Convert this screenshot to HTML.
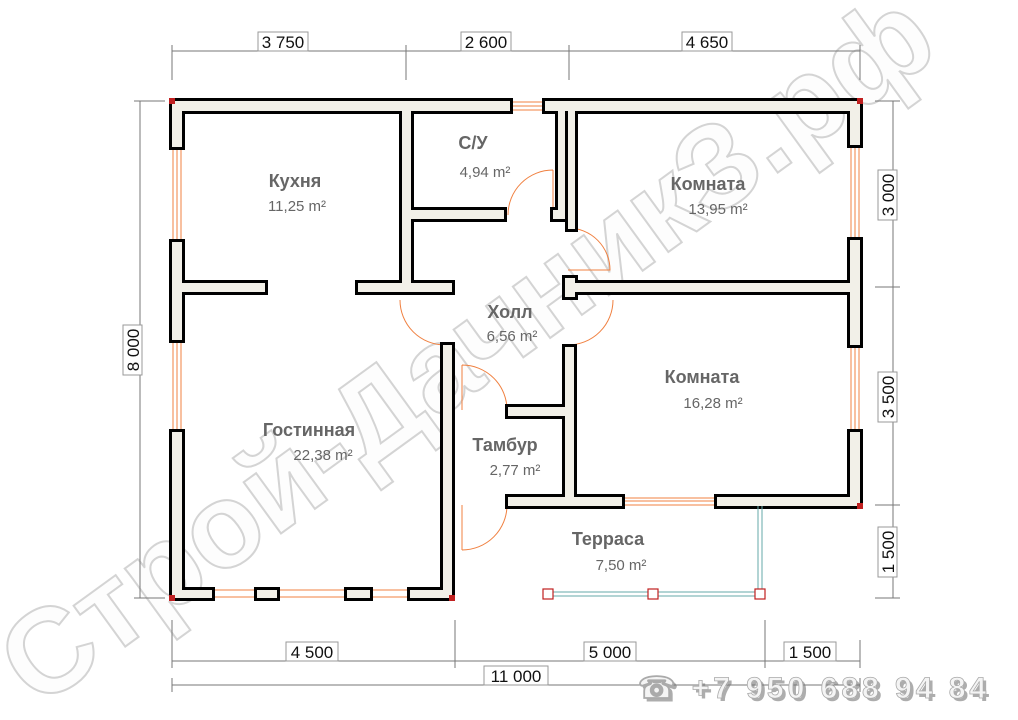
<!DOCTYPE html>
<html><head><meta charset="utf-8"><style>
html,body{margin:0;padding:0;background:#fff;}
svg{display:block;font-family:"Liberation Sans","DejaVu Sans",sans-serif;}
.nm{font-size:18px;font-weight:bold;fill:#666;}
.ar{font-size:15px;fill:#666;}
.dim{font-size:17px;fill:#111;}
</style></head><body>
<svg width="1018" height="720" viewBox="0 0 1018 720" xmlns="http://www.w3.org/2000/svg">
<!-- watermark -->
<text x="0" y="0" transform="translate(38,710) rotate(-36)" font-size="120" font-weight="bold" fill="#fdfdfd" stroke="#d4d4d4" stroke-width="2">Строй-ДачникЗ.рф</text>

<!-- dimension lines -->
<g stroke="#777" stroke-width="1" fill="none">
<line x1="172" y1="51" x2="860" y2="51"/>
<line x1="172" y1="45" x2="172" y2="80"/><line x1="406" y1="45" x2="406" y2="80"/><line x1="569" y1="45" x2="569" y2="80"/><line x1="860" y1="45" x2="860" y2="80"/>
<line x1="140" y1="101" x2="140" y2="598"/>
<line x1="134" y1="101" x2="165" y2="101"/><line x1="134" y1="598" x2="165" y2="598"/>
<line x1="893" y1="101" x2="893" y2="598"/>
<line x1="875" y1="101" x2="900" y2="101"/><line x1="875" y1="287" x2="900" y2="287"/><line x1="875" y1="505" x2="900" y2="505"/><line x1="875" y1="598" x2="900" y2="598"/>
<line x1="172" y1="661" x2="860" y2="661"/>
<line x1="172" y1="620" x2="172" y2="668"/><line x1="455" y1="620" x2="455" y2="668"/><line x1="765" y1="620" x2="765" y2="668"/><line x1="860" y1="640" x2="860" y2="668"/>
<line x1="172" y1="685" x2="860" y2="685"/>
<line x1="172" y1="678" x2="172" y2="692"/><line x1="860" y1="678" x2="860" y2="692"/>
</g>
<g class="dim" text-anchor="middle">
<rect x="258" y="32" width="50" height="19" fill="#fff" stroke="#999"/><text x="283" y="48">3 750</text>
<rect x="461" y="32" width="50" height="19" fill="#fff" stroke="#999"/><text x="486" y="48">2 600</text>
<rect x="682" y="32" width="50" height="19" fill="#fff" stroke="#999"/><text x="707" y="48">4 650</text>
<rect x="286" y="642" width="52" height="19" fill="#fff" stroke="#999"/><text x="312" y="658">4 500</text>
<rect x="584" y="642" width="52" height="19" fill="#fff" stroke="#999"/><text x="610" y="658">5 000</text>
<rect x="784" y="642" width="52" height="19" fill="#fff" stroke="#999"/><text x="810" y="658">1 500</text>
<rect x="484" y="666" width="64" height="19" fill="#fff" stroke="#999"/><text x="516" y="682">11 000</text>
<g transform="translate(136,350) rotate(-90)"><rect x="-25" y="-13" width="50" height="19" fill="#fff" stroke="#999"/><text x="0" y="3">8 000</text></g>
<g transform="translate(891,195) rotate(-90)"><rect x="-25" y="-13" width="50" height="19" fill="#fff" stroke="#999"/><text x="0" y="3">3 000</text></g>
<g transform="translate(891,397) rotate(-90)"><rect x="-25" y="-13" width="50" height="19" fill="#fff" stroke="#999"/><text x="0" y="3">3 500</text></g>
<g transform="translate(891,552) rotate(-90)"><rect x="-25" y="-13" width="50" height="19" fill="#fff" stroke="#999"/><text x="0" y="3">1 500</text></g>
</g>

<!-- windows -->
<g fill="none" stroke="#f08040" stroke-width="1">
<rect x="510" y="102" width="35" height="8"/>
<rect x="173" y="147" width="8" height="95"/><rect x="173" y="340" width="8" height="92"/>
<rect x="851" y="145" width="8" height="95"/><rect x="851" y="345" width="8" height="87"/>
<rect x="212" y="590" width="45" height="7"/><rect x="277" y="590" width="70" height="7"/><rect x="370" y="590" width="40" height="7"/>
<rect x="622" y="498" width="95" height="7"/>
<line x1="177" y1="147" x2="177" y2="242"/><line x1="177" y1="340" x2="177" y2="432"/>
<line x1="855" y1="145" x2="855" y2="240"/><line x1="855" y1="345" x2="855" y2="432"/>
<line x1="622" y1="501" x2="717" y2="501"/><line x1="510" y1="106" x2="545" y2="106"/>
</g>

<!-- doors -->
<g fill="none" stroke="#f08040" stroke-width="1">
<path d="M553 170 L553 215 M553 170 A45 45 0 0 0 508 215"/>
<path d="M568 228 A42 42 0 0 1 610 270 L568 270"/>
<path d="M400 300 A45 45 0 0 0 445 345"/>
<path d="M568 345 A45 45 0 0 0 613 300"/>
<path d="M462 365 L462 410 M462 365 A45 45 0 0 1 507 410"/>
<path d="M462 550 L462 505 M462 550 A45 45 0 0 0 507 505"/>
</g>

<!-- walls -->
<g>
<g stroke="#000" stroke-width="6" fill="#000" stroke-linejoin="miter">
<rect x="172" y="101" width="338" height="10"/><rect x="545" y="101" width="315" height="10"/>
<rect x="172" y="101" width="10" height="46"/><rect x="172" y="242" width="10" height="98"/><rect x="172" y="432" width="10" height="166"/>
<rect x="850" y="101" width="10" height="44"/><rect x="850" y="240" width="10" height="105"/><rect x="850" y="432" width="10" height="74"/>
<rect x="172" y="590" width="40" height="8"/><rect x="257" y="590" width="20" height="8"/><rect x="347" y="590" width="23" height="8"/><rect x="410" y="590" width="42" height="8"/>
<rect x="182" y="283" width="83" height="9"/><rect x="358" y="283" width="94" height="9"/>
<rect x="402" y="111" width="9" height="181"/>
<rect x="411" y="210" width="93" height="9"/>
<rect x="558" y="111" width="7" height="108"/><rect x="553" y="210" width="12" height="9"/>
<rect x="568" y="111" width="7" height="118"/>
<rect x="565" y="283" width="295" height="9"/><rect x="565" y="278" width="10" height="19"/>
<rect x="443" y="345" width="9" height="253"/>
<rect x="565" y="347" width="9" height="158"/>
<rect x="508" y="407" width="57" height="9"/>
<rect x="508" y="497" width="114" height="9"/><rect x="717" y="497" width="143" height="9"/>
</g>
<g fill="#f2f0e8">
<rect x="172" y="101" width="338" height="10"/><rect x="545" y="101" width="315" height="10"/>
<rect x="172" y="101" width="10" height="46"/><rect x="172" y="242" width="10" height="98"/><rect x="172" y="432" width="10" height="166"/>
<rect x="850" y="101" width="10" height="44"/><rect x="850" y="240" width="10" height="105"/><rect x="850" y="432" width="10" height="74"/>
<rect x="172" y="590" width="40" height="8"/><rect x="257" y="590" width="20" height="8"/><rect x="347" y="590" width="23" height="8"/><rect x="410" y="590" width="42" height="8"/>
<rect x="182" y="283" width="83" height="9"/><rect x="358" y="283" width="94" height="9"/>
<rect x="402" y="111" width="9" height="181"/>
<rect x="411" y="210" width="93" height="9"/>
<rect x="558" y="111" width="7" height="108"/><rect x="553" y="210" width="12" height="9"/>
<rect x="568" y="111" width="7" height="118"/>
<rect x="565" y="283" width="295" height="9"/><rect x="565" y="278" width="10" height="19"/>
<rect x="443" y="345" width="9" height="253"/>
<rect x="565" y="347" width="9" height="158"/>
<rect x="508" y="407" width="57" height="9"/>
<rect x="508" y="497" width="114" height="9"/><rect x="717" y="497" width="143" height="9"/>
</g>
</g>
<g fill="#c02020"><rect x="169" y="98" width="6" height="6"/><rect x="857" y="98" width="6" height="6"/><rect x="857" y="503" width="6" height="6"/><rect x="169" y="595" width="6" height="6"/><rect x="449" y="595" width="6" height="6"/></g>

<!-- terrace rail -->
<g stroke="#6aa" stroke-width="1" fill="none">
<line x1="548" y1="592" x2="760" y2="592"/><line x1="548" y1="596" x2="760" y2="596"/>
<line x1="758" y1="506" x2="758" y2="594"/><line x1="762" y1="506" x2="762" y2="594"/>
</g>
<g fill="#fff" stroke="#c02020" stroke-width="1.2">
<rect x="543" y="589" width="10" height="10"/><rect x="648" y="589" width="10" height="10"/><rect x="755" y="589" width="10" height="10"/>
</g>

<!-- labels -->
<g text-anchor="middle">
<text class="nm" x="295" y="187">Кухня</text><text class="ar" x="297" y="211">11,25 m²</text>
<text class="nm" x="473" y="149">С/У</text><text class="ar" x="485" y="177">4,94 m²</text>
<text class="nm" x="708" y="190">Комната</text><text class="ar" x="718" y="214">13,95 m²</text>
<text class="nm" x="510" y="318">Холл</text><text class="ar" x="512" y="341">6,56 m²</text>
<text class="nm" x="702" y="383">Комната</text><text class="ar" x="713" y="408">16,28 m²</text>
<text class="nm" x="309" y="436">Гостинная</text><text class="ar" x="323" y="460">22,38 m²</text>
<text class="nm" x="505" y="451">Тамбур</text><text class="ar" x="515" y="475">2,77 m²</text>
<text class="nm" x="608" y="545">Терраса</text><text class="ar" x="621" y="570">7,50 m²</text>
</g>

<!-- phone -->
<text x="641" y="701" font-size="30" font-weight="bold" fill="#777" opacity="0.6" font-family="Liberation Sans,sans-serif" letter-spacing="4">☎ +7 950 688 94 84</text>
<text x="638" y="698" font-size="30" font-weight="bold" fill="#f4f4f4" stroke="#aaa" stroke-width="0.8" font-family="Liberation Sans,sans-serif" letter-spacing="4">☎ +7 950 688 94 84</text>
</svg>
</body></html>
